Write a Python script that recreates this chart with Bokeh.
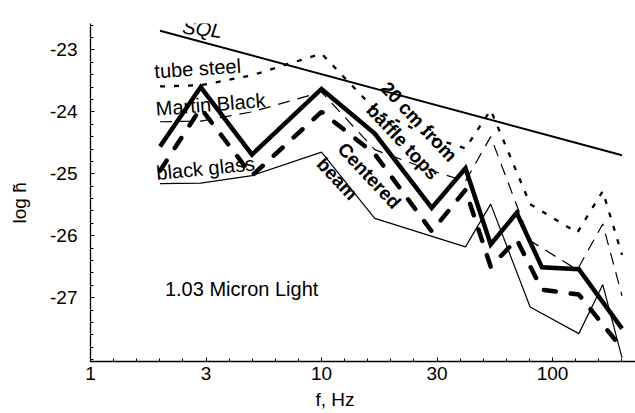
import math
from bokeh.plotting import figure
from bokeh.models import Range1d, FixedTicker, CustomJSTickFormatter, Label, Title
from bokeh.embed import file_html
from bokeh.resources import INLINE

# ---------------- data ----------------
sql_f = [2, 200]
sql_v = [-22.69, -24.70]

tube_f = [2, 3, 5, 10, 17, 30, 42, 54, 80, 128, 165, 200]
tube_v = [-23.59, -23.57, -23.41, -23.06, -23.96, -24.42, -24.59, -23.97, -25.49, -25.95, -25.28, -26.31]

martin_f = [2, 3, 5, 10, 17, 30, 42, 54, 80, 128, 165, 200]
martin_v = [-24.16, -24.15, -24.00, -23.68, -24.61, -24.95, -25.12, -24.40, -26.08, -26.55, -25.81, -26.97]

glass_f = [2, 3, 5, 10, 17, 42, 54, 80, 130, 165, 200]
glass_v = [-25.16, -25.15, -25.03, -24.65, -25.72, -26.18, -25.49, -27.15, -27.58, -26.79, -27.97]

baffle_f = [2, 3, 5, 10, 17, 30, 42, 54, 70, 90, 130, 200]
baffle_v = [-24.56, -23.60, -24.69, -23.63, -24.35, -25.55, -24.91, -26.14, -25.63, -26.51, -26.54, -27.50]

center_f = [2, 3, 5, 10, 17, 30, 42, 54, 70, 90, 130, 200]
center_v = [-24.95, -23.94, -25.03, -24.00, -24.68, -25.93, -25.26, -26.50, -26.06, -26.87, -26.95, -27.82]

x_tick_labels = ["1", "3", "10", "30", "100"]
y_major = [-27, -26, -25, -24, -23]
y_tick_labels = ["-27", "-26", "-25", "-24", "-23"]

FONT = "Liberation Sans"

# ---------------- figure ----------------
p = figure(width=635, height=413, x_axis_type="log",
           x_range=Range1d(1, 228.7), y_range=Range1d(-28.03, -22.574),
           output_backend="svg", toolbar_location=None,
           min_border_left=90, min_border_right=0,
           min_border_top=23, min_border_bottom=50)
p.outline_line_color = None
p.xgrid.visible = False
p.ygrid.visible = False
p.background_fill_color = "white"

# x axis: ticks every 0.1 decade, labels at half decades
x_major = [10 ** (k / 2) for k in range(5)]
x_minor = [10 ** (k / 10) for k in range(0, 24)]
p.xaxis.ticker = FixedTicker(ticks=x_major, minor_ticks=x_minor)
p.xaxis.formatter = CustomJSTickFormatter(
    args=dict(labels=x_tick_labels),
    code="const i = Math.round(Math.log10(tick) * 2); return labels[i] ?? '';")

y_minor = [round(-28 + 0.2 * k, 1) for k in range(0, 28)]
p.yaxis.ticker = FixedTicker(ticks=y_major, minor_ticks=y_minor)
p.yaxis.formatter = CustomJSTickFormatter(
    args=dict(vals=y_major, labels=y_tick_labels),
    code="const i = vals.indexOf(Math.round(tick)); return i >= 0 ? labels[i] : '';")

for ax in (p.xaxis, p.yaxis):
    ax.major_tick_in = 4
    ax.major_tick_out = 0
    ax.minor_tick_in = 3
    ax.minor_tick_out = 0
    ax.axis_line_width = 1.3
    ax.axis_line_color = "black"
    ax.major_tick_line_color = "black"
    ax.minor_tick_line_color = "black"
    ax.major_label_text_font = FONT
    ax.major_label_text_font_size = "19px"
    ax.major_label_text_color = "black"
p.xaxis.major_label_standoff = 5
p.yaxis.major_label_standoff = 13

# spacer between the tick labels and the y title
p.add_layout(Title(text=" ", standoff=0, text_font=FONT, text_font_size="11px"), "left")
p.add_layout(Title(text="log h\u0303", align="left", offset=138, standoff=8,
                   text_font=FONT, text_font_size="19px",
                   text_font_style="normal", text_color="black"), "left")

p.add_layout(Title(text="f, Hz", align="left", offset=225, standoff=8,
                   text_font=FONT, text_font_size="19px",
                   text_font_style="normal", text_color="black"), "below")

# ---------------- series ----------------
p.line(sql_f, sql_v, line_color="black", line_width=2)
p.line(tube_f, tube_v, line_color="black", line_width=2.3, line_dash="5 9")
p.line(martin_f, martin_v, line_color="black", line_width=1.2, line_dash="12 8")
p.line(glass_f, glass_v, line_color="black", line_width=1.2)
p.line(baffle_f, baffle_v, line_color="black", line_width=4.5, line_join="miter")
p.line(center_f, center_v, line_color="black", line_width=4.5,
       line_dash="12 15", line_cap="round")

# ---------------- texts ----------------
def lab(x, y, text, size="20px", angle=0.0, style="normal", align="center"):
    p.add_layout(Label(x=x, y=y, text=text, angle=angle, text_font=FONT,
                       text_font_size=size, text_font_style=style,
                       text_color="black", text_align=align,
                       text_baseline="middle"))

lab(3.05, -22.66, "SQL", style="italic", angle=-0.12)
lab(2.91, -23.30, "tube steel", angle=0.066)
lab(3.31, -23.88, "Martin Black", angle=0.08)
lab(3.15, -24.91, "black glass", angle=0.10)
lab(4.51, -26.86, "1.03 Micron Light")
lab(26.4, -24.16, "20 cm from", style="bold", angle=-0.82, size="19px")
lab(22.5, -24.48, "baffle tops", style="bold", angle=-0.82, size="19px")
lab(16.1, -25.03, "Centered", style="bold", angle=-0.82, size="19px")
lab(11.7, -25.08, "beam", style="bold", angle=-0.82, size="19px")

open("out.html", "w").write(file_html(p, INLINE))
